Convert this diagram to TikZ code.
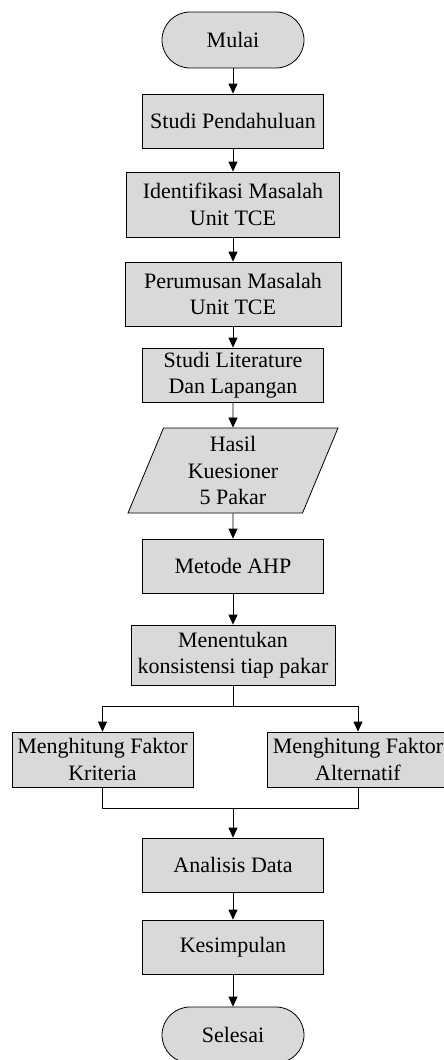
\documentclass[tikz,border=0pt]{standalone}
\usepackage{fontspec}
\setmainfont{Liberation Serif}
\usetikzlibrary{shapes.geometric,arrows.meta}

\begin{document}
\begin{tikzpicture}[x=1pt,y=-1pt,
   box/.style={draw=black,fill=gray!30,line width=0.8pt,align=center,
      inner sep=0pt,font=\fontsize{22}{26.5}\selectfont},
   proses/.style={box,minimum width=181,minimum height=54},
   term/.style={box,rounded corners=28pt,minimum width=142,minimum height=56},
   data/.style={box,trapezium,trapezium left angle=62.6,trapezium right angle=117.4,
      trapezium stretches body,minimum width=210,minimum height=85},
   arr/.style={-{Triangle[width=9pt,length=10pt]},line width=0.8pt},
   garis/.style={line width=0.8pt}]
   \useasboundingbox (0,0) rectangle (444,1060);
   \node[term] (mulai) at (233,40) {Mulai};
   \node[proses] (pend) at (233,121) {Studi Pendahuluan};
   \node[box,minimum width=213,minimum height=65] (ident) at (233,204.5) {Identifikasi Masalah\\Unit TCE};
   \node[box,minimum width=216,minimum height=64] (rumus) at (233,294) {Perumusan Masalah\\Unit TCE};
   \node[proses] (lit) at (233,375) {Studi Literature\\Dan Lapangan};
   \node[data] (hasil) at (233,470.5) {Hasil\\Kuesioner\\5 Pakar};
   \node[proses] (ahp) at (233,566) {Metode AHP};
   \node[box,minimum width=204,minimum height=60] (konsis) at (233,655) {Menentukan\\konsistensi tiap pakar};
   \node[proses,minimum height=55] (krit) at (102.5,759.5) {Menghitung Faktor\\Kriteria};
   \node[proses,minimum height=55] (alt) at (358,759.5) {Menghitung Faktor\\Alternatif};
   \node[proses] (analisis) at (233,865) {Analisis Data};
   \node[proses] (simpul) at (233,947) {Kesimpulan};
   \node[term] (selesai) at (233,1035) {Selesai};
   \coordinate (cabang) at (233,706);
   \coordinate (gabung) at (233,808);
   \draw[arr] (mulai) -- (pend);
   \draw[arr] (pend) -- (ident);
   \draw[arr] (ident) -- (rumus);
   \draw[arr] (rumus) -- (lit);
   \draw[arr] (lit) -- (hasil);
   \draw[arr] (hasil) -- (ahp);
   \draw[arr] (ahp) -- (konsis);
   \draw[garis] (konsis) -- (cabang);
   \draw[arr] (cabang) -| (krit);
   \draw[arr] (cabang) -| (alt);
   \draw[garis] (krit) |- (gabung) -| (alt);
   \draw[arr] (gabung) -- (analisis);
   \draw[arr] (analisis) -- (simpul);
   \draw[arr] (simpul) -- (selesai);
\end{tikzpicture}
\end{document}
